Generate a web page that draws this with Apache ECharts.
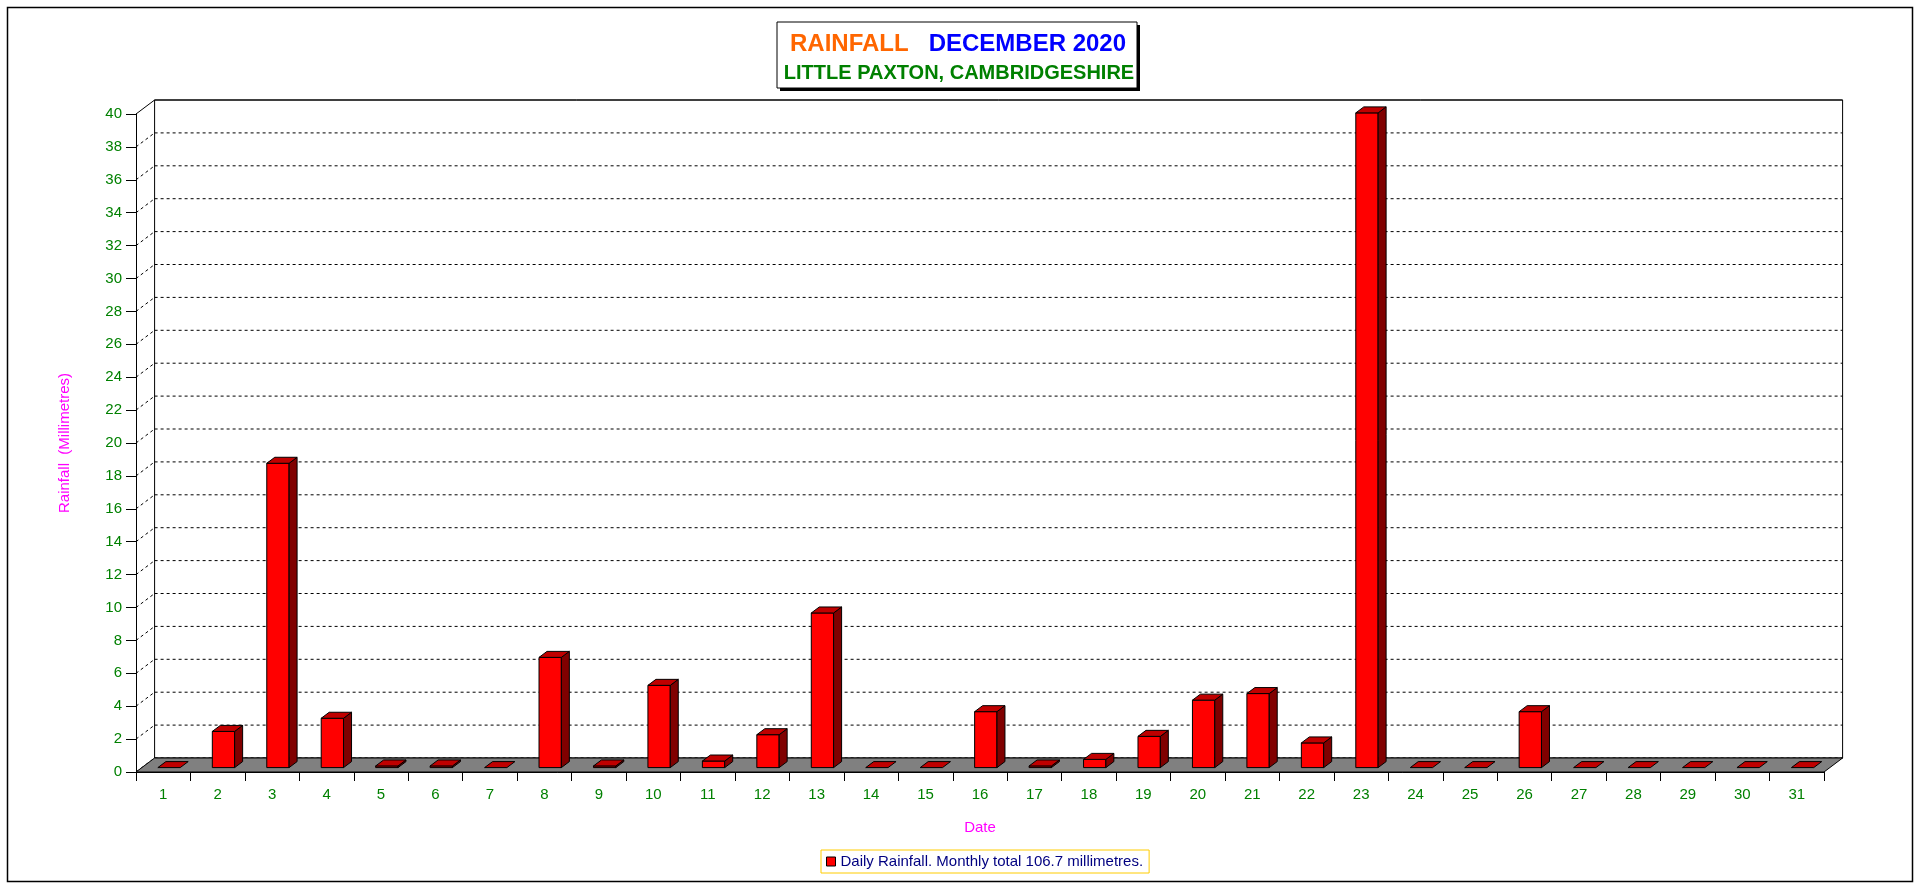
<!DOCTYPE html>
<html><head><meta charset="utf-8">
<script src="https://cdn.jsdelivr.net/npm/echarts@6/dist/echarts.min.js"></script>
<style>html,body{margin:0;padding:0;background:#fff;}#c{width:1916px;height:884px;}</style>
</head><body><div id="c"></div>
<script>
// ---- data ----
const days = ['1','2','3','4','5','6','7','8','9','10','11','12','13','14','15','16','17','18','19','20','21','22','23','24','25','26','27','28','29','30','31'];
const rainfall = [0, 2.2, 18.5, 3.0, 0.1, 0.1, 0, 6.7, 0.1, 5.0, 0.4, 2.0, 9.4, 0, 0, 3.4, 0.1, 0.5, 1.9, 4.1, 4.5, 1.5, 39.8, 0, 0, 3.4, 0, 0, 0, 0, 0];
const yTicks = [0,2,4,6,8,10,12,14,16,18,20,22,24,26,28,30,32,34,36,38,40];
const titleWord = 'RAINFALL';
const titleMonth = 'DECEMBER 2020';
const titleSite = 'LITTLE PAXTON, CAMBRIDGESHIRE';
const yName = 'Rainfall  (Millimetres)';
const xName = 'Date';

const total = rainfall.reduce((a, b) => a + b, 0).toFixed(1);
const seriesName = 'Daily Rainfall. Monthly total ' + total + ' millimetres.';

const FONT = '"Liberation Sans", Arial, sans-serif';
const DX = 18.6, DY = 14;          // depth of the 3D box
const FX = 5.8, FY = 4.4;          // bar front-face offset
const BX = 8, BY = 6;              // bar depth
const GREEN = '#008000', MAG = '#FF00FF';

const chart = echarts.init(document.getElementById('c'), null, {renderer: 'canvas'});

function wallItem(params, api) {
  const cs = params.coordSys;
  const v = api.value(1);
  const y = api.coord([0, v])[1];
  const x0 = cs.x, x1 = cs.x + cs.width;
  const dash = v === yTicks[yTicks.length - 1] ? null : [3, 3];
  return {
    type: 'group',
    children: [
      {type: 'line', shape: {x1: x0 + DX, y1: y - DY, x2: x1 + DX, y2: y - DY},
       style: {stroke: '#000', lineWidth: 1, lineDash: dash}},
      {type: 'line', shape: {x1: x0, y1: y, x2: x0 + DX, y2: y - DY},
       style: {stroke: '#000', lineWidth: 1, lineDash: dash}}
    ]
  };
}

function frameItem(params, api) {
  const cs = params.coordSys;
  return {
    type: 'rect',
    shape: {x: cs.x + DX, y: cs.y - DY, width: cs.width, height: cs.height},
    style: {fill: null, stroke: '#000', lineWidth: 1}
  };
}

function floorItem(params, api) {
  const cs = params.coordSys;
  const yb = api.coord([0, 0])[1];
  const x0 = cs.x, x1 = cs.x + cs.width;
  return {
    type: 'polygon',
    shape: {points: [[x0, yb], [x1, yb], [x1 + DX, yb - DY], [x0 + DX, yb - DY]]},
    style: {fill: '#808080', stroke: '#000', lineWidth: 1}
  };
}

function barItem(params, api) {
  const i = api.value(0), v = api.value(1);
  const c0 = api.coord([i, 0]);
  const c1 = api.coord([i, v]);
  const bw = api.size([1, 0])[0];
  const fw = bw * 0.41;
  const xl = c0[0] + FX - fw / 2, xr = xl + fw;
  const yb = c0[1] - FY, yt = c1[1] - FY;
  const children = [];
  if (yb - yt > 0.3) {
    children.push({type: 'rect', shape: {x: xl, y: yt, width: fw, height: yb - yt},
      style: {fill: '#FF0000', stroke: '#000', lineWidth: 1}});
    children.push({type: 'polygon', shape: {points: [[xr, yt], [xr + BX, yt - BY], [xr + BX, yb - BY], [xr, yb]]},
      style: {fill: '#800000', stroke: '#000', lineWidth: 1}});
  }
  children.push({type: 'polygon', shape: {points: [[xl, yt], [xr, yt], [xr + BX, yt - BY], [xl + BX, yt - BY]]},
    style: {fill: '#C00000', stroke: '#000', lineWidth: 1}});
  return {type: 'group', children};
}

const option = {
  animation: false,
  backgroundColor: '#fff',
  textStyle: {fontFamily: FONT},
  grid: {left: 136, top: 114, width: 1688, height: 658, containLabel: false},
  xAxis: {
    type: 'category', data: days,
    name: xName, nameLocation: 'middle', nameGap: 48,
    nameTextStyle: {color: MAG, fontSize: 15, fontFamily: FONT},
    axisLine: {show: true, lineStyle: {color: '#000', width: 1}},
    axisTick: {show: true, length: 9, lineStyle: {color: '#000'}},
    axisLabel: {interval: 0, color: GREEN, fontSize: 15, fontFamily: FONT, margin: 15},
    splitLine: {show: false}
  },
  yAxis: {
    type: 'value', min: 0, max: 40, interval: 2,
    name: yName, nameLocation: 'middle', nameRotate: 90, nameGap: 64,
    nameTextStyle: {color: MAG, fontSize: 15, fontFamily: FONT},
    axisLine: {show: true, lineStyle: {color: '#000', width: 1}},
    axisTick: {show: true, length: 10, lineStyle: {color: '#000'}},
    axisLabel: {color: GREEN, fontSize: 15, fontFamily: FONT, margin: 14},
    splitLine: {show: false}
  },
  legend: {
    show: true, left: 821, top: 850,
    padding: [4, 6, 4, 5],
    borderColor: '#FFCC00', borderWidth: 1,
    itemWidth: 9, itemHeight: 9,
    textStyle: {color: '#000080', fontSize: 15, fontFamily: FONT},
    data: [{name: seriesName, icon: 'rect', itemStyle: {color: '#FF0000', borderColor: '#000', borderWidth: 1}}]
  },
  graphic: [
    {type: 'rect', left: 5, top: 5, shape: {width: 1905, height: 874}, style: {fill: null, stroke: '#000', lineWidth: 1.5}, z: 100},
    {type: 'rect', x: 780, y: 25, shape: {width: 360, height: 66}, style: {fill: '#000'}, z: 100},
    {type: 'rect', x: 777, y: 22, shape: {width: 360, height: 66}, style: {fill: '#fff', stroke: '#000', lineWidth: 1}, z: 101},
    {type: 'text', x: 958, y: 44, z: 102, style: {
      text: '{a|' + titleWord + '}   {b|' + titleMonth + '}',
      align: 'center', verticalAlign: 'middle',
      rich: {
        a: {fill: '#FF6600', fontSize: 24, fontWeight: 'bold', fontFamily: FONT},
        b: {fill: '#0000FF', fontSize: 24, fontWeight: 'bold', fontFamily: FONT}
      },
      font: 'bold 24px ' + FONT
    }},
    {type: 'text', x: 959, y: 73, z: 102, style: {
      text: titleSite, align: 'center', verticalAlign: 'middle',
      fill: GREEN, font: 'bold 20px ' + FONT
    }}
  ],
  series: [
    {type: 'custom', name: 'wall', silent: true, z: 1, renderItem: wallItem,
     data: yTicks.map(v => [0, v]), legendHoverLink: false},
    {type: 'custom', name: 'frame', silent: true, z: 2, renderItem: frameItem, data: [[0, 0]]},
    {type: 'custom', name: 'floor', silent: true, z: 3, renderItem: floorItem, data: [[0, 0]]},
    {type: 'custom', name: seriesName, z: 4, renderItem: barItem,
     itemStyle: {color: '#FF0000'},
     data: rainfall.map((v, i) => [i, v])}
  ]
};
chart.setOption(option);
</script>
</body></html>
